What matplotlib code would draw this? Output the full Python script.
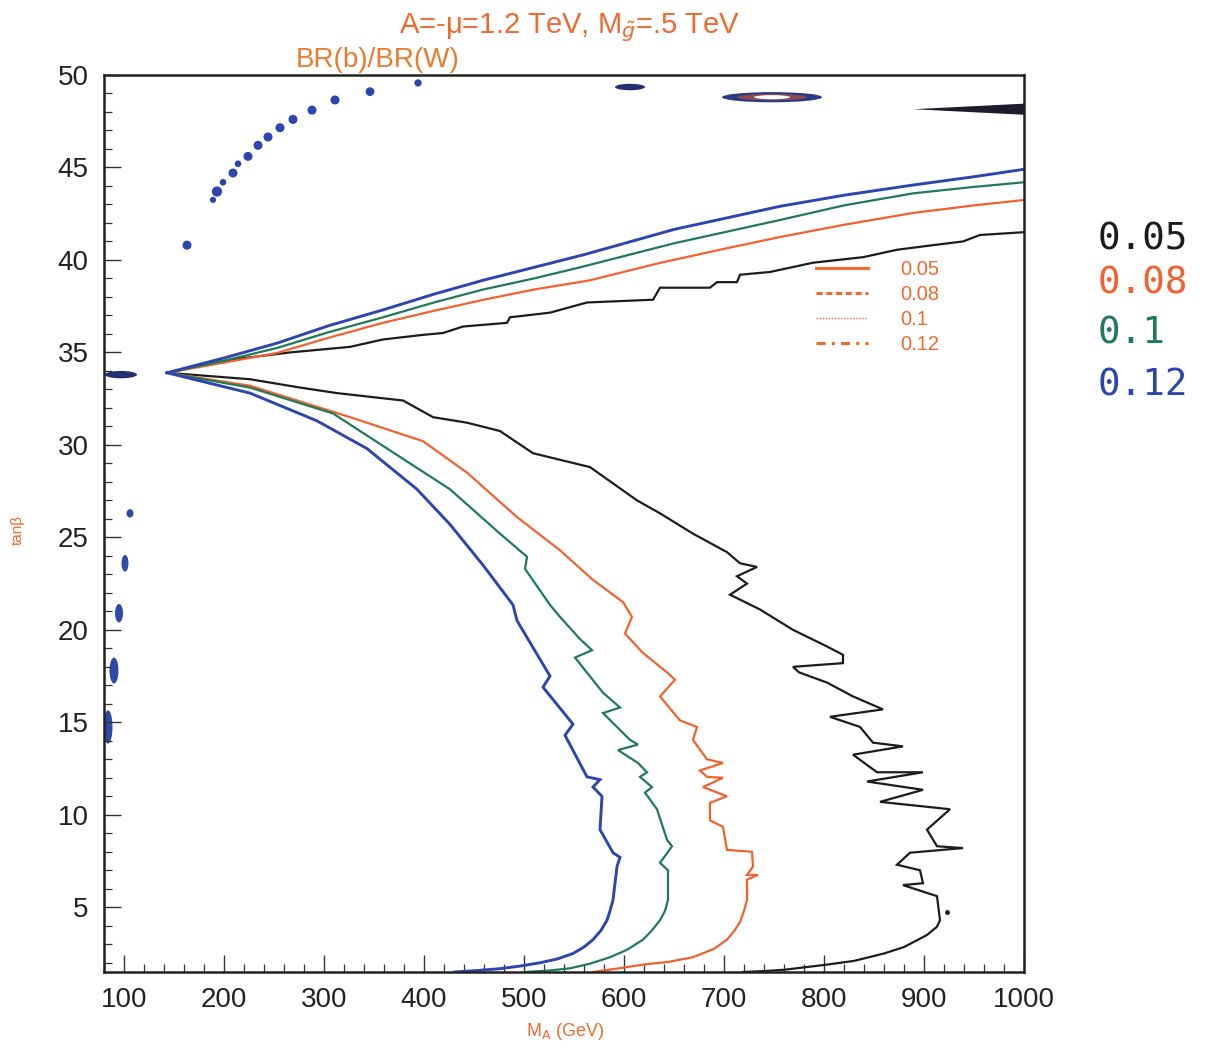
import matplotlib.pyplot as plt
from matplotlib.lines import Line2D
from matplotlib.patches import Ellipse, Polygon
from matplotlib.ticker import MultipleLocator

# Contour lines of BR(b)/BR(W) in the (M_A, tan(beta)) plane
# upper branches
up_005_x = [143, 206, 266, 326, 359, 399, 419, 439, 483, 486, 526, 563, 629, 636, 686, 693, 713, 716, 746, 789, 839, 873, 909, 939, 956, 1000]
up_005_y = [33.9, 34.6, 35.0, 35.3, 35.7, 35.95, 36.05, 36.4, 36.6, 36.9, 37.15, 37.7, 37.85, 38.5, 38.5, 38.8, 38.8, 39.2, 39.35, 39.85, 40.15, 40.55, 40.8, 41.0, 41.35, 41.5]
up_008_x = [143, 200, 253, 305, 359, 410, 459, 510, 566, 636, 700, 756, 820, 889, 950, 1000]
up_008_y = [33.9, 34.45, 34.97, 35.8, 36.6, 37.25, 37.84, 38.4, 38.9, 39.84, 40.6, 41.24, 41.9, 42.54, 42.95, 43.24]
up_010_x = [143, 200, 253, 305, 359, 410, 459, 510, 556, 650, 756, 820, 889, 950, 1000]
up_010_y = [33.9, 34.55, 35.24, 36.1, 36.9, 37.7, 38.4, 39.0, 39.6, 40.9, 42.16, 42.95, 43.6, 43.95, 44.2]
up_012_x = [143, 200, 253, 305, 359, 410, 459, 510, 561, 650, 756, 820, 889, 950, 1000]
up_012_y = [33.9, 34.7, 35.5, 36.45, 37.3, 38.15, 38.9, 39.6, 40.3, 41.65, 42.9, 43.5, 44.05, 44.5, 44.9]

# lower branches
lo_005_x = [143, 226, 276, 313, 379, 409, 443, 476, 509, 566, 613, 636, 669, 703, 716, 733, 713, 723, 706, 736, 769, 803, 819, 819,
            769, 775, 803, 829, 859, 806, 836, 849, 879, 829, 853, 899, 843, 899, 856, 926, 903, 913, 939, 886, 873, 896, 899, 879,
            913, 916, 913, 903, 880, 860, 830, 803, 780, 760, 740, 719]
lo_005_y = [33.9, 33.55, 33.1, 32.8, 32.4, 31.5, 31.2, 30.75, 29.55, 28.8, 27.0, 26.3, 25.2, 24.2, 23.6, 23.4, 22.9, 22.5, 21.9, 21.1,
            20.0, 19.1, 18.65, 18.2, 18.0, 17.7, 17.15, 16.4, 15.7, 15.3, 14.75, 13.9, 13.7, 13.25, 12.3, 12.3, 11.8, 11.35, 10.7,
            10.3, 9.2, 8.3, 8.2, 7.95, 7.3, 7.0, 6.3, 6.2, 5.6, 4.3, 3.95, 3.5, 2.85, 2.5, 2.1, 1.9, 1.75, 1.62, 1.55, 1.5]
lo_008_x = [143, 226, 326, 399, 443, 493, 536, 569, 599, 608, 601, 619, 643, 651, 636, 656, 673, 669, 683, 699, 676, 683, 699, 679,
            703, 686, 686, 699, 703, 728, 729, 723, 734, 723, 723, 720, 716, 710, 703, 690, 669, 645, 619, 595, 569]
lo_008_y = [33.9, 33.2, 31.5, 30.2, 28.5, 26.1, 24.3, 22.7, 21.5, 20.7, 19.8, 18.75, 17.7, 17.3, 16.4, 15.1, 14.75, 14.05, 13.0, 12.8,
            12.4, 12.05, 12.0, 11.5, 11.0, 10.65, 9.7, 9.35, 8.1, 8.0, 7.2, 6.75, 6.75, 6.5, 5.4, 4.8, 4.2, 3.7, 3.25, 2.75, 2.3, 2.05, 1.9, 1.7, 1.5]
lo_010_x = [143, 226, 309, 376, 426, 476, 503, 501, 526, 536, 556, 568, 551, 579, 596, 579, 606, 614, 594, 614, 623, 616, 628, 621,
            633, 643, 648, 636, 644, 644, 641, 636, 628, 619, 603, 586, 566, 546, 525, 501]
lo_010_y = [33.9, 33.1, 31.7, 29.35, 27.6, 25.2, 23.95, 23.3, 21.35, 20.7, 19.5, 18.9, 18.5, 16.6, 15.8, 15.5, 14.05, 13.8, 13.5, 12.8,
            12.3, 12.05, 11.5, 11.2, 10.3, 8.65, 8.3, 7.4, 7.0, 5.4, 4.8, 4.3, 3.75, 3.25, 2.7, 2.3, 1.95, 1.7, 1.58, 1.5]
lo_012_x = [143, 226, 293, 343, 393, 426, 459, 489, 493, 526, 519, 549, 541, 563, 576, 569, 578, 576, 589, 596, 593, 589, 586, 583,
            577, 569, 560, 549, 533, 516, 496, 476, 453, 431]
lo_012_y = [33.9, 32.8, 31.3, 29.8, 27.6, 25.7, 23.5, 21.35, 20.5, 17.5, 16.9, 14.9, 14.3, 12.05, 11.9, 11.5, 11.0, 9.2, 7.95, 7.7,
            7.2, 5.4, 4.8, 4.3, 3.75, 3.25, 2.85, 2.5, 2.2, 2.0, 1.82, 1.68, 1.58, 1.5]

# isolated 0.12 points in the top-left corner
dots_x = [163, 189, 193, 199, 209, 214, 224, 234, 244, 256, 269, 288, 311, 346, 394]
dots_y = [40.8, 43.25, 43.7, 44.2, 44.7, 45.2, 45.6, 46.2, 46.65, 47.15, 47.6, 48.1, 48.65, 49.1, 49.57]
dots_s = [30, 12, 40, 14, 30, 14, 30, 30, 30, 30, 30, 30, 30, 28, 18]

# small closed islands (center x, center y, width, height)
left_isl = [(106, 26.3, 7, 0.45), (101, 23.6, 7, 0.9), (95, 20.9, 8, 1.0), (90, 17.8, 9, 1.4), (84, 14.75, 9, 1.8)]
top_isl = [(606, 49.35, 30, 0.35), (97, 33.8, 32, 0.4)]
ring_c = (748, 48.8)
wedge_x = [889, 1000, 1000]
wedge_y = [48.15, 48.45, 47.85]

levels = ["0.05", "0.08", "0.1", "0.12"]
colors = ["#1c1c1c", "#f2622e", "#1f7a58", "#2c46ae"]
orange = "#f06a30"

fig = plt.figure(figsize=(12.07, 10.5), dpi=100)
ax = fig.add_axes([104 / 1207, 1 - 972 / 1050, 920 / 1207, 897 / 1050])
ax.set_xlim(80, 1000)
ax.set_ylim(1.5, 50)

curves = [(up_005_x, up_005_y, lo_005_x, lo_005_y),
          (up_008_x, up_008_y, lo_008_x, lo_008_y),
          (up_010_x, up_010_y, lo_010_x, lo_010_y),
          (up_012_x, up_012_y, lo_012_x, lo_012_y)]
for (ux, uy, lx, ly), c in zip(curves, colors):
    lw = 2.1 if c == colors[3] else 1.6
    ax.plot(ux, uy, color=c, lw=lw, solid_joinstyle="miter")
    ax.plot(lx, ly, color=c, lw=lw, solid_joinstyle="miter")

ax.scatter(dots_x, dots_y, s=dots_s, color="#2c46ae", zorder=3)
ax.plot([923], [4.76], "o", ms=2.5, color="#1c1c1c")

for cx, cy, w, h in left_isl:
    ax.add_patch(Ellipse((cx, cy), w, h, fc="#2c4aa8", ec="none"))
for cx, cy, w, h in top_isl:
    ax.add_patch(Ellipse((cx, cy), w, h, fc="#243070", ec="none"))
ax.add_patch(Ellipse(ring_c, 100, 0.55, fc="#263a86", ec="none"))
ax.add_patch(Ellipse(ring_c, 70, 0.35, fc="#8a4a50", ec="none"))
ax.add_patch(Ellipse(ring_c, 36, 0.22, fc="white", ec="none"))
ax.add_patch(Polygon(list(zip(wedge_x, wedge_y)), closed=True, fc="#1c1c2c", ec="none"))

# frame and ticks
for s in ax.spines.values():
    s.set_linewidth(1.8)
    s.set_color("#222222")
ax.xaxis.set_major_locator(MultipleLocator(100))
ax.xaxis.set_minor_locator(MultipleLocator(20))
ax.yaxis.set_major_locator(MultipleLocator(5))
ax.yaxis.set_minor_locator(MultipleLocator(1))
ax.tick_params(which="both", direction="in", top=False, right=False, color="#333333")
ax.tick_params(which="major", length=12, width=1.0, labelsize=20, pad=11, labelcolor="#222222")
ax.tick_params(which="minor", length=6, width=0.9)
for lab in ax.get_xticklabels() + ax.get_yticklabels():
    lab.set_family("Liberation Sans")

# legend with line styles
handles = [Line2D([], [], color=orange, lw=2.2, ls=ls) for ls in ["-", (0, (2, 1.2)), (0, (1, 1.2)), (0, (3, 2, 1, 2))]]
handles[2].set_linewidth(1.0)
leg = ax.legend(handles, levels, loc="upper left", bbox_to_anchor=(806 / 1207, 1 - 250 / 1050),
                bbox_transform=fig.transFigure, frameon=False, handlelength=2.6, handletextpad=1.6,
                labelspacing=0.3, borderpad=0, prop={"family": "Liberation Sans", "size": 14.5})
for t in leg.get_texts():
    t.set_color(orange)

fig.text(570 / 1207, 1 - 28 / 1050, "A=-\u03bc=1.2 TeV, M$_{\\tilde{g}}$=.5 TeV", color=orange,
         fontsize=21, family="Liberation Sans", ha="center", va="center")
fig.text(296 / 1207, 1 - 60 / 1050, "BR(b)/BR(W)", color="#ec7a2e", fontsize=20,
         family="Liberation Sans", ha="left", va="center")
fig.text(18 / 1207, 1 - 530 / 1050, "tan\u03b2", color=orange, fontsize=11, rotation=90,
         family="Liberation Sans", ha="center", va="center")
fig.text(565 / 1207, 1 - 1032 / 1050, r"M$_{\rm A}$ (GeV)", color=orange, fontsize=13,
         family="Liberation Sans", ha="center", va="center")

# hand-written colour key on the right
for lab, c, yp in zip(levels, colors, [240, 283, 333, 385]):
    fig.text(1098 / 1207, 1 - yp / 1050, lab, color=c, fontsize=27, family="DejaVu Sans Mono",
             ha="left", va="center")

fig.savefig("out.png", dpi=100)
